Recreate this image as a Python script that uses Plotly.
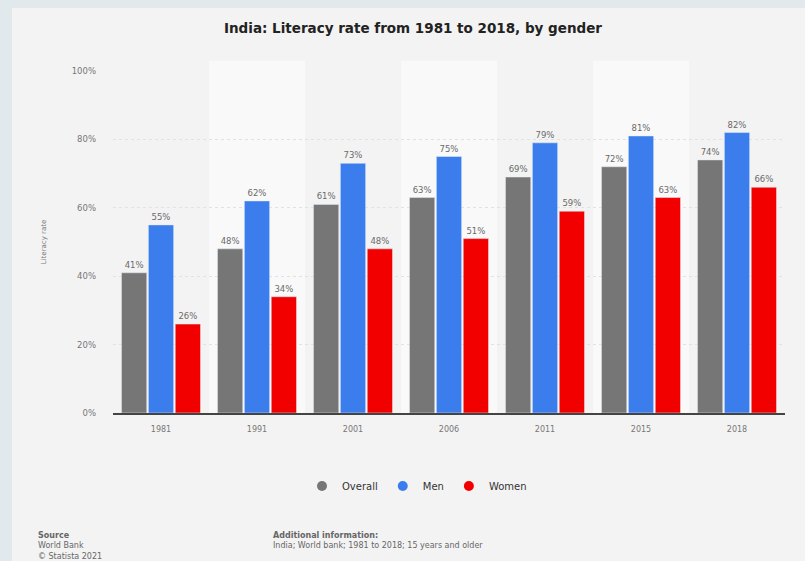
import plotly.graph_objects as go

years = ["1981", "1991", "2001", "2006", "2011", "2015", "2018"]
overall = [41, 48, 61, 63, 69, 72, 74]
men = [55, 62, 73, 75, 79, 81, 82]
women = [26, 34, 48, 51, 59, 63, 66]
series_names = ["Overall", "Men", "Women"]
colors = ["#767676", "#3b7ded", "#f20000"]
y_ticks = [0, 20, 40, 60, 80, 100]
y_tick_text = ["0%", "20%", "40%", "60%", "80%", "100%"]

W, H = 805, 561
L, R, T, B = 113, 20, 71, 148
pw, ph = W - L - R, H - T - B
FONT = "DejaVu Sans"


def px(x):
    return (x - L) / pw


def py(y):
    return (H - B - y) / ph


fig = go.Figure()
for name, vals, c in zip(series_names, [overall, men, women], colors):
    fig.add_trace(go.Bar(
        x=years, y=vals, name=name, marker_color=c,
        text=[f"{v}%" for v in vals], textposition="outside",
        textfont=dict(size=8.5, color="#6a6a6a", family=FONT),
        cliponaxis=False, showlegend=False,
    ))
# legend with round markers
for name, c in zip(series_names, colors):
    fig.add_trace(go.Scatter(
        x=[None], y=[None], mode="markers", name=name,
        marker=dict(symbol="circle", size=10, color=c),
    ))

shapes = [
    dict(type="rect", xref="paper", yref="paper", x0=px(12), x1=px(W + 5),
         y0=py(H + 5), y1=py(8), fillcolor="#f3f3f3", line=dict(width=0),
         layer="below"),
]
for i in range(1, len(years), 2):
    shapes.append(dict(type="rect", xref="x", yref="paper", x0=i - 0.5,
                       x1=i + 0.5, y0=0, y1=1.03, fillcolor="#f9f9f9",
                       line=dict(width=0), layer="below"))

annotations = [
    dict(text="<b>Source</b><br>World Bank<br>© Statista 2021", xref="paper",
         yref="paper", x=px(36), y=py(529), xanchor="left", yanchor="top",
         align="left", showarrow=False,
         font=dict(size=8, color="#666", family=FONT)),
    dict(text="<b>Additional information:</b><br>India; World bank; 1981 to 2018; 15 years and older",
         xref="paper", yref="paper", x=px(271), y=py(529), xanchor="left",
         yanchor="top", align="left", showarrow=False,
         font=dict(size=8, color="#666", family=FONT)),
]

fig.update_layout(
    width=W, height=H,
    margin=dict(l=L, r=R, t=T, b=B, autoexpand=False),
    paper_bgcolor="#e2e9ec",
    plot_bgcolor="rgba(0,0,0,0)",
    title=dict(text="<b>India: Literacy rate from 1981 to 2018, by gender</b>",
               x=413 / W, xanchor="center", y=1 - 28 / H, yanchor="middle",
               font=dict(size=13.5, color="#222", family=FONT)),
    barmode="group", bargap=0.16, bargroupgap=0.06,
    shapes=shapes, annotations=annotations,
    legend=dict(orientation="h", x=px(417), xanchor="center", y=py(486),
                yanchor="middle",
                font=dict(size=10, color="#333", family=FONT),
                bgcolor="rgba(0,0,0,0)", itemwidth=30),
    xaxis=dict(showline=True, linecolor="#444", linewidth=1.5,
               tickfont=dict(size=8, color="#777", family=FONT),
               ticklabelstandoff=8,
               ticks="", showgrid=False, automargin=False),
    yaxis=dict(range=[0, 100], tickvals=y_ticks, ticktext=y_tick_text,
               tickfont=dict(size=8.5, color="#777", family=FONT),
               ticklabelstandoff=16,
               showgrid=True, gridcolor="#e2e2e2", griddash="dot",
               zeroline=False, showline=False, automargin=False,
               title=dict(text="Literacy rate", standoff=24,
                          font=dict(size=7, color="#777", family=FONT))),
)

fig.write_html(
    "out.html",
    config={"displayModeBar": False},
    post_script="document.body.style.margin='0';"
                "document.body.style.background='#e2e9ec';",
)
